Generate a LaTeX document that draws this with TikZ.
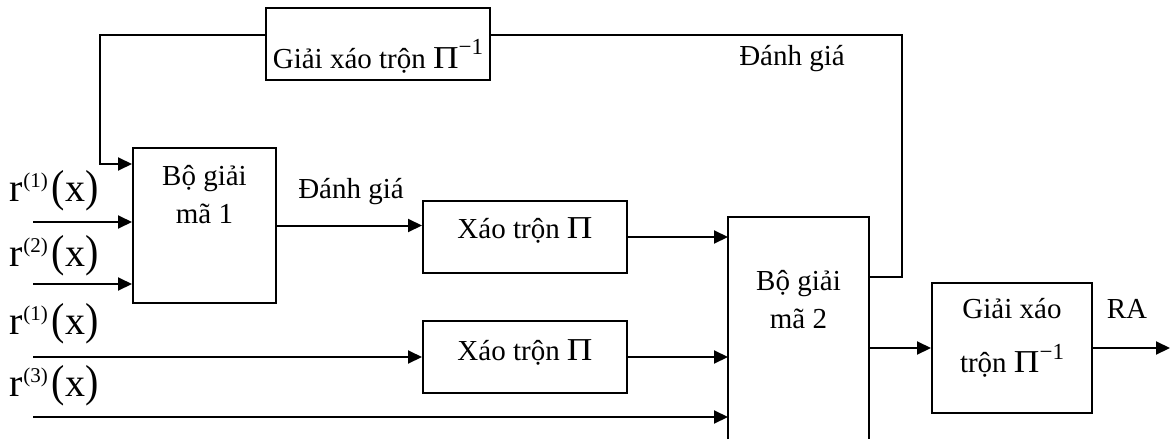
\documentclass[tikz,border=0pt]{standalone}
\usepackage{fontspec}
\setmainfont{Liberation Serif}
\usepackage{graphicx}
\usepackage{tikz}
\usetikzlibrary{arrows.meta, positioning, calc}

\newcommand{\bigpi}{\scalebox{1.22}[1.1]{Π}}
\newcommand{\pinv}{\bigpi\raisebox{6.5pt}{\fontsize{11.5}{11.5}\selectfont −1}}
\newcommand{\rsig}[1]{{\fontsize{20}{20}\selectfont r\raisebox{7pt}{\fontsize{10.5}{10.5}\selectfont(#1)}\kern2pt\scalebox{1}[1.12]{(}x\scalebox{1}[1.12]{)}}}

\begin{document}
\begin{tikzpicture}[x=0.5pt, y=-0.5pt, line width=1pt,
  font=\fontsize{14.5}{19}\selectfont,
  blk/.style={draw, line width=1pt, inner sep=0pt},
  txt/.style={anchor=base, inner sep=0pt},
  arr/.style={-{Triangle[length=7pt, width=6.5pt]}}]
  \useasboundingbox (0,0) rectangle (1172,439);

  % Blocks
  \node[blk, minimum width=112pt, minimum height=36pt] (deint1) at (378,44) {};
  \node[blk, minimum width=71.5pt, minimum height=77.5pt] (dec1) at (204.5,225.5) {};
  \node[blk, minimum width=102pt, minimum height=36pt] (int1) at (525,237) {};
  \node[blk, minimum width=102pt, minimum height=36pt] (int2) at (525,357) {};
  \node[minimum width=70.5pt, minimum height=111pt, inner sep=0pt, outer sep=0pt] (dec2) at (798.5,328) {};
  \draw (dec2.south west) -- (dec2.north west) -- (dec2.north east) -- (dec2.south east);
  \node[blk, minimum width=80pt, minimum height=65pt] (deint2) at (1012,348) {};

  % Block texts
  \node[txt] (deint1t) at (378,68) {Giải xáo trộn \pinv};
  \node[txt] (dec1a) at (204.5,185) {Bộ giải};
  \node[txt] (dec1b) at (204.5,223) {mã 1};
  \node[txt] (int1t) at (525,238) {Xáo trộn \bigpi};
  \node[txt] (int2t) at (525,360) {Xáo trộn \bigpi};
  \node[txt] (dec2a) at (798.5,290) {Bộ giải};
  \node[txt] (dec2b) at (798.5,328) {mã 2};
  \node[txt] (deint2a) at (1012,318) {Giải xáo};
  \node[txt] (deint2b) at (1012,372) {trộn \pinv};

  % Input signals
  \node[txt, anchor=base west] (r1) at (9,201) {\rsig{1}};
  \node[txt, anchor=base west] (r2) at (9,266) {\rsig{2}};
  \node[txt, anchor=base west] (r3) at (9,334) {\rsig{1}};
  \node[txt, anchor=base west] (r4) at (9,396) {\rsig{3}};

  % Other labels
  \node[txt] (est1) at (351,198) {Đánh giá};
  \node[txt] (est2) at (792,65) {Đánh giá};
  \node[txt] (ra) at (1127,318) {RA};

  % Connectors
  \coordinate (in1) at (33,222);
  \coordinate (in2) at (33,284);
  \coordinate (in3) at (33,357);
  \coordinate (in4) at (33,417);
  \coordinate (fbL) at (100,35);
  \coordinate (fbR) at (902,35);
  \coordinate (out) at (1170,348);

  \draw[arr] (in1) -- (in1 -| dec1.west);
  \draw[arr] (in2) -- (in2 -| dec1.west);
  \draw[arr] (in3) -- (int2.west);
  \draw[arr] (in4) -- (in4 -| dec2.west);
  \draw[arr] (deint1.west |- fbL) -- (fbL) |- ([yshift=-8.5pt]dec1.north west);
  \draw ([yshift=-30pt]dec2.north east) -| (fbR) -- (fbR -| deint1.east);
  \draw[arr] (dec1.east) -- (dec1.east -| int1.west);
  \draw[arr] (int1.east) -- (int1.east -| dec2.west);
  \draw[arr] (int2.east) -- (int2.east -| dec2.west);
  \draw[arr] (dec2.east |- deint2.west) -- (deint2.west);
  \draw[arr] (deint2.east) -- (out);
\end{tikzpicture}
\end{document}
